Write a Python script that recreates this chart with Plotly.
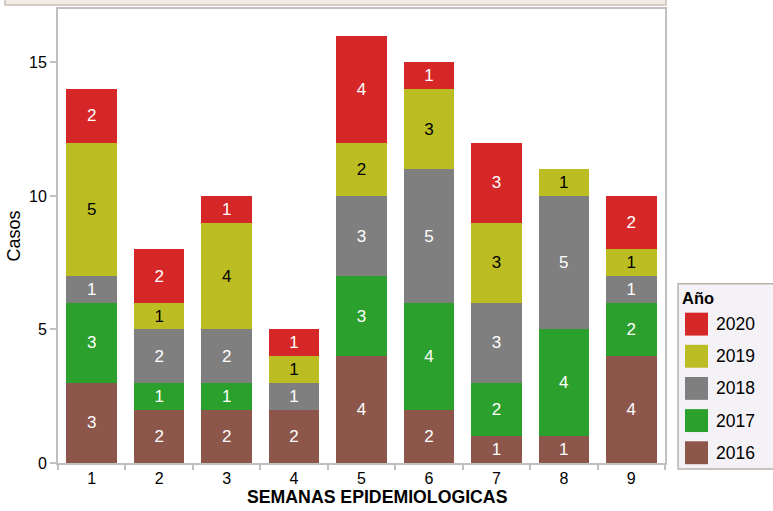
import plotly.graph_objects as go

weeks = ["1", "2", "3", "4", "5", "6", "7", "8", "9"]
years = ["2016", "2017", "2018", "2019", "2020"]
v2016 = [3, 2, 2, 2, 4, 2, 1, 1, 4]
v2017 = [3, 1, 1, 0, 3, 4, 2, 4, 2]
v2018 = [1, 2, 2, 1, 3, 5, 3, 5, 1]
v2019 = [5, 1, 4, 1, 2, 3, 3, 1, 1]
v2020 = [2, 2, 1, 1, 4, 1, 3, 0, 2]
series = [v2016, v2017, v2018, v2019, v2020]
colors = ["#8c564b", "#2ca02c", "#7f7f7f", "#bcbd22", "#d62728"]
text_colors = ["white", "white", "white", "black", "white"]
y_ticks = [0, 5, 10, 15]

W, H = 773, 511
L, R, T, B = 58, 665, 7, 463

def px(x):
    return (x - L) / (R - L)

def py(y):
    return (B - y) / (B - T)

FONT = "Liberation Sans, Arial, sans-serif"

fig = go.Figure()
for yr, vals, col, tcol in zip(years, series, colors, text_colors):
    fig.add_trace(go.Bar(
        x=weeks, y=vals, name=yr, marker=dict(color=col, line=dict(width=0)),
        text=[str(v) if v > 0 else "" for v in vals],
        textposition="inside", insidetextanchor="middle", textangle=0,
        constraintext="none",
        textfont=dict(color=tcol, size=17, family=FONT),
        showlegend=False, hoverinfo="x+y+name",
    ))

fig.update_layout(
    barmode="stack", bargap=0.25,
    width=W, height=H,
    margin=dict(l=L, r=W - R, t=T, b=H - B, pad=0),
    plot_bgcolor="white", paper_bgcolor="white",
    font=dict(family=FONT, size=16, color="black"),
    xaxis=dict(type="category", tickson="boundaries", ticks="outside", ticklen=5,
               tickcolor="#c0c0c0", tickwidth=1.5, showline=True, mirror=True,
               linecolor="#c0c0c0", linewidth=2, showgrid=False,
               tickfont=dict(size=16), title=None),
    yaxis=dict(range=[0, 17], tickvals=y_ticks, ticks="outside", ticklen=6,
               tickcolor="#c0c0c0", tickwidth=1.5, showline=True, mirror=True,
               linecolor="#c0c0c0", linewidth=2, showgrid=False, zeroline=False,
               tickfont=dict(size=16),
               title=dict(text="Casos", font=dict(size=18), standoff=4)),
)

shapes = []
annotations = []
# top strip (panel edge)
shapes.append(dict(type="rect", xref="paper", yref="paper",
                   x0=px(5), x1=px(666), y0=py(3), y1=py(-6),
                   fillcolor="#f1ede6", line=dict(color="#c9c0b2", width=1.5), layer="above"))
# x axis title
annotations.append(dict(text="<b>SEMANAS EPIDEMIOLOGICAS</b>", xref="paper", yref="paper",
                        x=px(377), y=py(497), showarrow=False, xanchor="center", yanchor="middle",
                        font=dict(size=17.7, family=FONT)))
# legend box
shapes.append(dict(type="rect", xref="paper", yref="paper",
                   x0=px(678), x1=px(790), y0=py(469), y1=py(283),
                   fillcolor="#f4f2f6", line=dict(color="#b8b2aa", width=1.5), layer="above"))
annotations.append(dict(text="<b>Año</b>", xref="paper", yref="paper",
                        x=px(680), y=py(297), showarrow=False, xanchor="left", yanchor="middle",
                        font=dict(size=16.5, family=FONT)))
legend_order = list(zip(years, colors))[::-1]
for i, (yr, col) in enumerate(legend_order):
    y0 = 312 + 32.3 * i
    shapes.append(dict(type="rect", xref="paper", yref="paper",
                       x0=px(685), x1=px(708), y0=py(y0 + 23), y1=py(y0),
                       fillcolor=col, line=dict(width=0), layer="above"))
    annotations.append(dict(text=yr, xref="paper", yref="paper",
                            x=px(714), y=py(y0 + 11.5), showarrow=False,
                            xanchor="left", yanchor="middle",
                            font=dict(size=17.5, family=FONT)))

fig.update_layout(shapes=shapes, annotations=annotations)
fig.write_html("out.html", config={"displayModeBar": False},
               post_script="document.body.style.margin='0';")
